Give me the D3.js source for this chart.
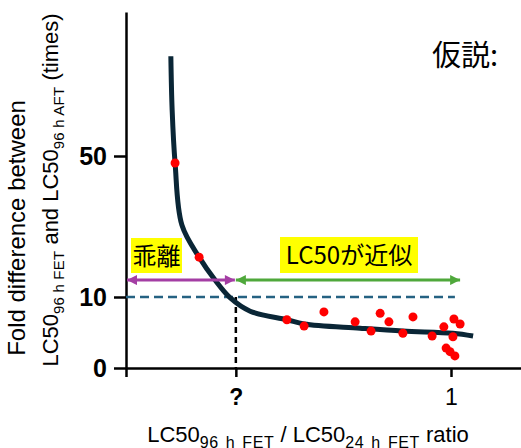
<!DOCTYPE html>
<html lang="ja">
<head>
<meta charset="UTF-8">
<title>LC50 ratio</title>
<script src="https://cdn.jsdelivr.net/npm/d3@7"></script>
<style>
    body{margin:0;background:#fff;}
    svg text{font-family:"Liberation Sans",Arial,sans-serif;fill:#000;}
    .jp{font-family:"Noto Sans CJK JP",sans-serif !important;}
    .axis path,.axis line{stroke:#000;stroke-width:2.5;}
</style>
</head>
<body>
<div class="app"></div>
<script>
    // y ticks (fold difference)
    var yTicks = [0, 10, 50];
    var yTickLabels = ['0', '10', '50'];
    // x ticks: origin, unknown threshold, 1
    var xTicks = [0, 0.338, 1];
    var xTickLabels = ['', '?', '1'];

    // fitted curve
    var curveX = [0.138, 0.142, 0.151, 0.172, 0.225, 0.274, 0.320, 0.382, 0.495, 0.548, 0.720, 0.852, 1.006, 1.068];
    var curveY = [78.4, 63.1, 48.0, 30.4, 21.3, 14.8, 9.9, 8.0, 6.8, 6.2, 5.6, 5.2, 4.9, 4.5];

    // measured points
    var dotX = [0.151, 0.225, 0.495, 0.548, 0.609, 0.705, 0.754, 0.782, 0.809, 0.852, 0.883, 0.942, 0.978, 1.006, 1.009, 1.028, 0.985, 0.997, 1.012];
    var dotY = [48.0, 21.3, 6.8, 5.9, 7.9, 6.5, 5.2, 7.7, 6.5, 4.9, 7.2, 4.5, 5.8, 4.4, 6.9, 6.2, 2.8, 2.3, 1.7];

    var threshold = 10, thresholdX = 0.338, lineEnd = 1.012;
    var arrowY = 14.8;

    var width = 521, height = 448;
    var svg = d3.select('.app').append('svg')
        .attr('width', width).attr('height', height);

    var x = d3.scaleLinear().domain([0, 1.23]).range([126, 525.75]);
    var y = d3.scaleLinear().domain([0, 10, 50, 91]).range([368, 297, 156, 12]);

    var defs = svg.append('defs');
    function marker(id, color){
        defs.append('marker')
            .attr('id', id)
            .attr('viewBox', '0 0 10 10')
            .attr('refX', 10).attr('refY', 5)
            .attr('markerUnits', 'userSpaceOnUse')
            .attr('markerWidth', 11).attr('markerHeight', 10)
            .attr('orient', 'auto-start-reverse')
            .append('path').attr('d', 'M0,0L10,5L0,10Z').attr('fill', color);
    }
    marker('headP', '#a43ea4');
    marker('headG', '#4fa83b');

    // axes
    var gy = svg.append('g').attr('class', 'axis')
        .attr('transform', 'translate(' + x(0) + ',0)')
        .call(d3.axisLeft(y).tickValues(yTicks)
            .tickFormat(function(d, i){ return yTickLabels[i]; })
            .tickSize(12).tickSizeOuter(0).tickPadding(7));
    gy.selectAll('text').style('font-size', '25px').style('font-weight', 'bold');

    var gx = svg.append('g').attr('class', 'axis')
        .attr('transform', 'translate(0,' + y(0) + ')')
        .call(d3.axisBottom(x).tickValues(xTicks)
            .tickFormat(function(d, i){ return xTickLabels[i]; })
            .tickSize(9).tickSizeOuter(0).tickPadding(12));
    gx.selectAll('text').style('font-size', '23px')
        .style('font-weight', function(d, i){ return i === 1 ? 'bold' : 'normal'; });

    // threshold lines
    svg.append('line')
        .attr('x1', x(0)).attr('x2', x(lineEnd))
        .attr('y1', y(threshold)).attr('y2', y(threshold))
        .attr('stroke', '#256282').attr('stroke-width', 2.5)
        .attr('stroke-dasharray', '9,5');
    svg.append('line')
        .attr('x1', x(thresholdX)).attr('x2', x(thresholdX))
        .attr('y1', y(threshold)).attr('y2', y(0))
        .attr('stroke', '#000').attr('stroke-width', 2.5)
        .attr('stroke-dasharray', '6,4');

    // curve
    var pts = curveX.map(function(d, i){ return [d, curveY[i]]; });
    svg.append('path')
        .datum(pts)
        .attr('fill', 'none')
        .attr('stroke', '#0a2636')
        .attr('stroke-width', 5)
        .attr('d', d3.line()
            .x(function(d){ return x(d[0]); })
            .y(function(d){ return y(d[1]); })
            .curve(d3.curveCatmullRom.alpha(0.5)));

    // dots
    svg.selectAll('.dot')
        .data(dotX.map(function(d, i){ return [d, dotY[i]]; }))
        .enter().append('circle')
        .attr('class', 'dot')
        .attr('cx', function(d){ return x(d[0]); })
        .attr('cy', function(d){ return y(d[1]); })
        .attr('r', 4.5)
        .attr('fill', '#ff0000');

    // arrows
    svg.append('line')
        .attr('x1', x(0.003)).attr('x2', x(0.335))
        .attr('y1', y(arrowY)).attr('y2', y(arrowY))
        .attr('stroke', '#a43ea4').attr('stroke-width', 3)
        .attr('marker-start', 'url(#headP)').attr('marker-end', 'url(#headP)');
    svg.append('line')
        .attr('x1', x(0.338)).attr('x2', x(1.028))
        .attr('y1', y(arrowY)).attr('y2', y(arrowY))
        .attr('stroke', '#4fa83b').attr('stroke-width', 3)
        .attr('marker-start', 'url(#headG)').attr('marker-end', 'url(#headG)');

    // yellow labels
    function label(txt, x0, x1, y0, y1){
        svg.append('rect')
            .attr('x', x0).attr('y', y0)
            .attr('width', x1 - x0).attr('height', y1 - y0)
            .attr('fill', '#ffff00');
        svg.append('text').attr('class', 'jp')
            .attr('x', (x0 + x1) / 2).attr('y', (y0 + y1) / 2 + 9)
            .attr('text-anchor', 'middle')
            .style('font-size', '24px')
            .text(txt);
    }
    label('乖離', 131, 182, 238, 273);
    label('LC50が近似', 280, 418, 237, 273);

    svg.append('text').attr('class', 'jp')
        .attr('x', 432).attr('y', 66)
        .style('font-size', '29px')
        .text('仮説:');

    // axis titles (subscripts as lowered tspans)
    function sub(t, parts, subSize, ls, ws){
        parts.forEach(function(p){
            if (p.s) {
                t.append('tspan').attr('dy', 6)
                    .style('font-size', subSize + 'px')
                    .style('letter-spacing', ls + 'px')
                    .style('word-spacing', ws + 'px')
                    .text(p.t);
                t.append('tspan').attr('dy', -6).text('\u200b');
            } else {
                t.append('tspan').text(p.t);
            }
        });
    }
    var xt = svg.append('text')
        .attr('x', 308).attr('y', 442)
        .attr('text-anchor', 'middle')
        .style('font-size', '22px');
    sub(xt, [{t: 'LC50'}, {t: '96 h FET', s: 1}, {t: ' / LC50'}, {t: '24 h FET', s: 1}, {t: ' ratio'}], 16, 0.6, 2);

    svg.append('text')
        .attr('transform', 'translate(25,228) rotate(-90)')
        .attr('text-anchor', 'middle')
        .style('font-size', '24px')
        .text('Fold difference between');
    var yt2 = svg.append('text')
        .attr('transform', 'translate(58,190) rotate(-90)')
        .attr('text-anchor', 'middle')
        .style('font-size', '22px');
    sub(yt2, [{t: 'LC50'}, {t: '96 h FET', s: 1}, {t: ' and LC50'}, {t: '96 h AFT', s: 1}, {t: ' (times)'}], 15, 0.2, 0);
</script>
</body>
</html>
